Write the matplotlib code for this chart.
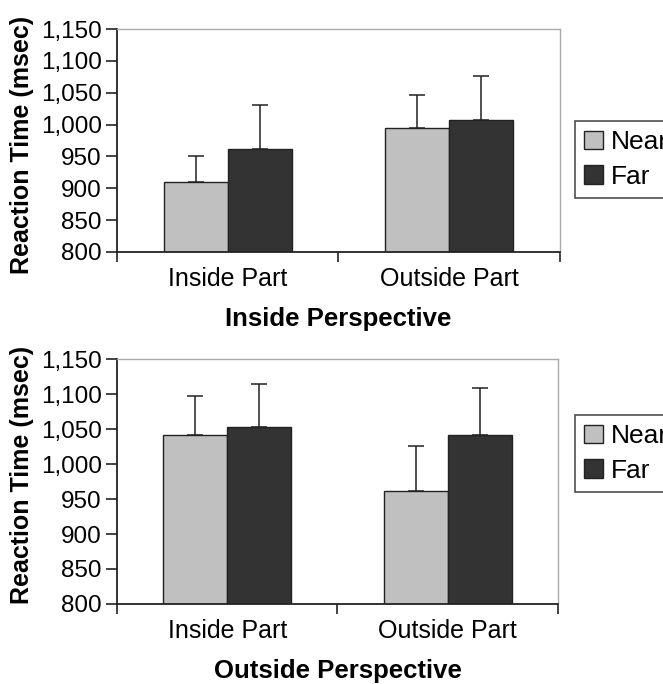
import matplotlib
matplotlib.use("Agg")
import matplotlib.pyplot as plt
import numpy as np
from matplotlib.patches import Patch

# data
categories = ["Inside Part", "Outside Part"]
series_names = ["Near", "Far"]

inside_near = [910, 995]
inside_far = [962, 1007]
inside_near_err = [41, 52]
inside_far_err = [69, 69]

outside_near = [1041, 961]
outside_far = [1053, 1041]
outside_near_err = [56, 65]
outside_far_err = [61, 67]

yticks = [800, 850, 900, 950, 1000, 1050, 1100, 1150]
ytick_labels = ["800", "850", "900", "950", "1,000", "1,050", "1,100", "1,150"]

near_color = "#c0c0c0"
far_color = "#333333"
edge = "#222222"

plt.rcParams['font.family'] = ['Liberation Sans', 'DejaVu Sans']

fig = plt.figure(figsize=(6.63, 6.84), dpi=100)

# axes positions (left, bottom, width, height) in figure fraction
ax_top = fig.add_axes([0.1765, 0.6316, 0.668, 0.326])
ax_bot = fig.add_axes([0.1765, 0.1170, 0.665, 0.358])


def draw_panel(ax, near, far, near_err, far_err, title, label_y):
    x = np.arange(len(categories))
    w = 0.29
    ax.bar(x - w / 2, near, w, color=near_color, edgecolor=edge, linewidth=1.0, zorder=2)
    ax.bar(x + w / 2, far, w, color=far_color, edgecolor=edge, linewidth=1.0, zorder=2)
    # error bars go up only
    ax.errorbar(x - w / 2, near, yerr=[np.zeros(len(near)), near_err], fmt="none",
                ecolor=edge, elinewidth=1.1, capsize=6, capthick=1.1, zorder=1)
    ax.errorbar(x + w / 2, far, yerr=[np.zeros(len(far)), far_err], fmt="none",
                ecolor=edge, elinewidth=1.1, capsize=6, capthick=1.1, zorder=1)
    ax.set_ylim(800, 1150)
    ax.set_xlim(-0.5, 1.5)
    ax.set_yticks(yticks)
    ax.set_yticklabels(ytick_labels, fontsize=17.5)
    # category ticks at the boundaries, labels at the centres
    ax.set_xticks([-0.5, 0.5, 1.5])
    ax.set_xticklabels([])
    ax.set_xticks(x, minor=True)
    ax.set_xticklabels(categories, minor=True, fontsize=18)
    ax.tick_params(axis="x", which="minor", length=0, pad=11)
    ax.tick_params(axis="x", which="major", length=7, width=1.2, color="#222222", direction="out")
    ax.tick_params(axis="y", length=8, width=1.2, color="#222222", direction="out", pad=3)
    for s in ["left", "bottom"]:
        ax.spines[s].set_color("#222222")
        ax.spines[s].set_linewidth(1.3)
    for s in ["top", "right"]:
        ax.spines[s].set_color("#aaaaaa")
        ax.spines[s].set_linewidth(1.0)
    ax.set_ylabel("Reaction Time (msec)", fontsize=18, fontweight="bold")
    ax.yaxis.set_label_coords(-0.188, label_y)
    ax.set_xlabel(title, fontsize=18.5, fontweight="bold", labelpad=11)


draw_panel(ax_top, inside_near, inside_far, inside_near_err, inside_far_err,
           "Inside Perspective", 0.48)
draw_panel(ax_bot, outside_near, outside_far, outside_near_err, outside_far_err,
           "Outside Perspective", 0.525)

handles = [Patch(facecolor=near_color, edgecolor=edge, linewidth=1.0),
           Patch(facecolor=far_color, edgecolor=edge, linewidth=1.0)]

# one legend per panel, partly cut off at the right edge like the original
for top_px in [121, 415]:
    leg = fig.legend(handles, series_names, loc="upper left",
                     bbox_to_anchor=(575 / 663, 1 - top_px / 684), borderaxespad=0,
                     fontsize=19, frameon=True, fancybox=False, handlelength=0.7,
                     handleheight=0.7, handletextpad=0.3, labelspacing=0.4,
                     borderpad=0.35)
    leg.get_frame().set_edgecolor("#222222")
    leg.get_frame().set_linewidth(1.2)

fig.savefig("out.png", dpi=100)
